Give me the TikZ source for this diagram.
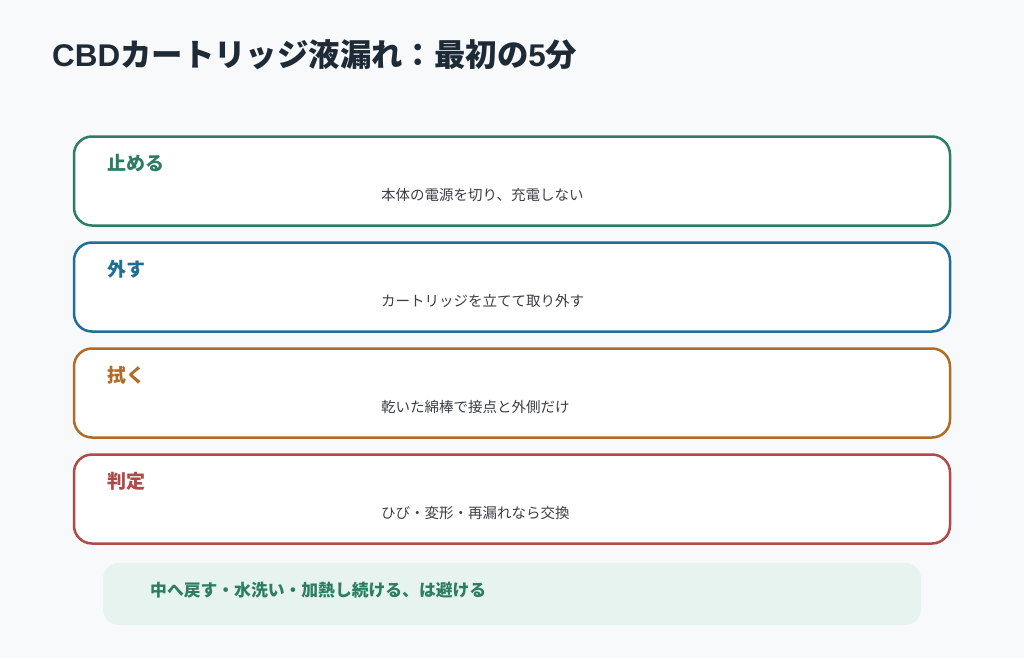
\documentclass[tikz,border=0pt]{standalone}
\usepackage{fontspec}
\setmainfont{Noto Sans CJK JP}
\newfontfamily\latinsans{Liberation Sans}
\usetikzlibrary{positioning}
\definecolor{pagebg}{HTML}{F7F9FB}
\definecolor{titleink}{HTML}{1E2A36}
\definecolor{bodyink}{HTML}{3A3F45}
\definecolor{stopgreen}{HTML}{2E7D62}
\definecolor{pullblue}{HTML}{1F6E96}
\definecolor{wipeorange}{HTML}{B06B28}
\definecolor{judgered}{HTML}{B04A4A}
\definecolor{notefill}{HTML}{E6F3EE}
\tikzset{
  stepcard/.style={draw=#1, line width=2.5pt, fill=white, rounded corners=18pt,
    minimum width=876pt, minimum height=89pt, inner sep=0pt},
  steptitle/.style={text=#1, font=\bfseries\fontsize{19}{23}\selectfont, anchor=west, inner sep=0pt},
  stepbody/.style={text=bodyink, font=\fontsize{14.5}{18}\selectfont, anchor=west, inner sep=0pt},
  notebox/.style={fill=notefill, rounded corners=16pt, minimum width=818pt,
    minimum height=62pt, inner sep=0pt},
}
\begin{document}
\begin{tikzpicture}[x=1pt,y=-1pt]
  % page
  \fill[pagebg] (0,0) rectangle (1024,658);
  \useasboundingbox (0,0) rectangle (1024,658);
  % heading
  \node[anchor=west, inner sep=0pt, text=titleink, font=\bfseries\fontsize{31.4}{36}\selectfont]
    (title) at (52,55) {{\latinsans CBD}カートリッジ液漏れ：最初の{\latinsans 5}分};
  % the four steps
  \foreach \name/\body/\col [count=\i] in
    {止める/本体の電源を切り、充電しない/stopgreen,
     外す/カートリッジを立てて取り外す/pullblue,
     拭く/乾いた綿棒で接点と外側だけ/wipeorange,
     判定/ひび・変形・再漏れなら交換/judgered}
  {
    % card
    \node[stepcard=\col] (card\i) at (512,181+106*\i-106) {};
    % heading and text
    \node[steptitle=\col] (head\i) at (107,163+106*\i-106) {\name};
    \node[stepbody] (body\i) at (381,195+106*\i-106) {\body};
  }
  % what not to do
  \node[notebox] (avoid) at (512,594) {};
  \node[anchor=west, inner sep=0pt, text=stopgreen, font=\bfseries\fontsize{16.8}{20}\selectfont]
    (avoidtext) at (150,590) {中へ戻す・水洗い・加熱し続ける、は避ける};
\end{tikzpicture}
\end{document}
